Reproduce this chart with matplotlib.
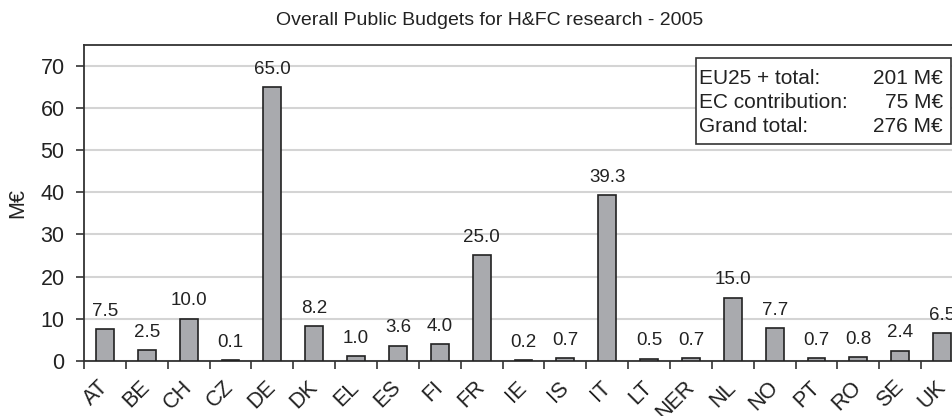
import matplotlib
matplotlib.use('Agg')
import matplotlib.pyplot as plt
import numpy as np
from matplotlib.patches import Rectangle

# data
countries = ['AT', 'BE', 'CH', 'CZ', 'DE', 'DK', 'EL', 'ES', 'FI', 'FR', 'IE',
             'IS', 'IT', 'LT', 'NER', 'NL', 'NO', 'PT', 'RO', 'SE', 'UK']
budgets = [7.5, 2.5, 10.0, 0.1, 65.0, 8.2, 1.0, 3.6, 4.0, 25.0, 0.2,
           0.7, 39.3, 0.5, 0.7, 15.0, 7.7, 0.7, 0.8, 2.4, 6.5]
yticks = [0, 10, 20, 30, 40, 50, 60, 70]
summary_labels = ['EU25 + total:', 'EC contribution:', 'Grand total:']
summary_values = ['201 M€', '75 M€', '276 M€']

plt.rcParams['font.family'] = ['Liberation Sans', 'DejaVu Sans']
txt = '#222222'

W, H = 952.0, 416.0
fig = plt.figure(figsize=(W / 100, H / 100), dpi=100)
# axes runs past the right edge of the picture (cropped original)
ax = fig.add_axes([84 / W, 1 - 360.7 / H, 879 / W, (360.7 - 45) / H])

x = np.arange(len(countries))
ax.bar(x, budgets, width=0.43, color='#a9aaae', edgecolor='#222222',
       linewidth=1.2, zorder=3)
for xi, v in zip(x, budgets):
    ax.annotate('%.1f' % v, (xi, v), xytext=(0, 9.5), textcoords='offset points',
                ha='center', va='baseline', fontsize=13.5, color=txt)

ax.set_xlim(-0.5, len(countries) - 0.5)
ax.set_ylim(0, 75)

# labels at the centres, tick marks between the categories
ax.set_xticks(x)
ax.set_xticklabels(countries, rotation=45, ha='right', va='center',
                   rotation_mode='anchor', fontsize=15.5, color=txt)
ax.set_xticks(np.arange(-0.5, len(countries)), minor=True)
ax.tick_params(axis='x', which='major', length=0, pad=17)
ax.tick_params(axis='x', which='minor', length=6, width=1.2, color='#333333',
               direction='out')
ax.set_yticks(yticks)
ax.tick_params(axis='y', length=6, width=1.2, color='#333333', pad=8,
               labelsize=15.5, labelcolor=txt)

ax.yaxis.grid(True, color='#d4d4d4', linewidth=1.5)
ax.set_axisbelow(True)
for s in ax.spines.values():
    s.set_color('#333333')
    s.set_linewidth(1.3)

ax.set_ylabel('M€', fontsize=15.5, color=txt, labelpad=9)

fig.text(490 / W, 1 - 25 / H, 'Overall Public Budgets for H&FC research - 2005',
         ha='center', va='baseline', fontsize=14, color=txt)

# summary box
fig.patches.append(Rectangle((696 / W, 1 - 144 / H), (950.5 - 696) / W, (144 - 58) / H,
                             transform=fig.transFigure, facecolor='white',
                             edgecolor='#333333', linewidth=1.2, zorder=5))
for i, (lab, val) in enumerate(zip(summary_labels, summary_values)):
    yy = 1 - (79 + 23.5 * i) / H
    fig.text(699 / W, yy, lab, ha='left', va='center', fontsize=15, color=txt, zorder=6)
    fig.text(943 / W, yy, val, ha='right', va='center', fontsize=15, color=txt, zorder=6)

fig.savefig('out.png', dpi=100)
